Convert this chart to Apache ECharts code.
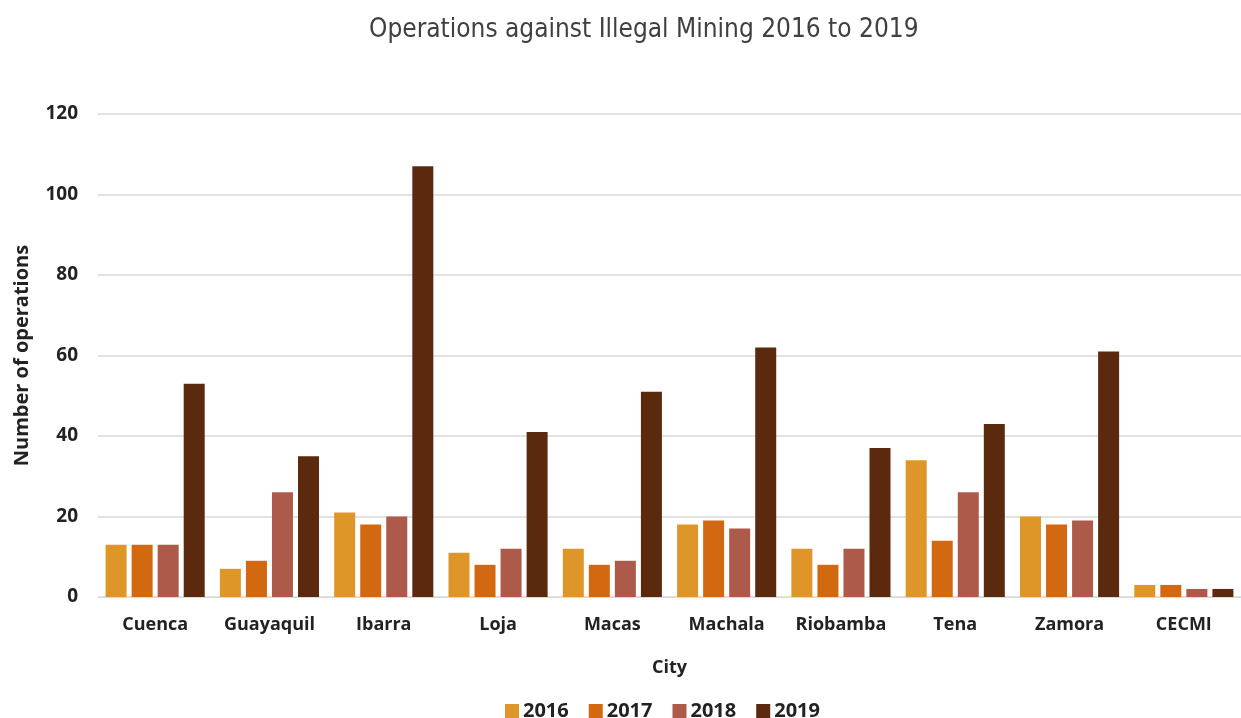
<!DOCTYPE html>
<html>
<head>
<meta charset="utf-8">
<script src="https://cdn.jsdelivr.net/npm/echarts@6/dist/echarts.min.js"></script>
<style>
  html, body { margin: 0; padding: 0; background: #ffffff; }
  #chart { width: 1241px; height: 718px; }
</style>
</head>
<body>
<div id="chart"></div>
<script>
// City categories and yearly operation counts
const cities = ['Cuenca', 'Guayaquil', 'Ibarra', 'Loja', 'Macas', 'Machala', 'Riobamba', 'Tena', 'Zamora', 'CECMI'];
const ops2016 = [13, 7, 21, 11, 12, 18, 12, 34, 20, 3];
const ops2017 = [13, 9, 18, 8, 8, 19, 8, 14, 18, 3];
const ops2018 = [13, 26, 20, 12, 9, 17, 12, 26, 19, 2];
const ops2019 = [53, 35, 107, 41, 51, 62, 37, 43, 61, 2];
const years = ['2016', '2017', '2018', '2019'];
const yearColors = ['#DF9629', '#D2680F', '#AE5A4B', '#5B2A0E'];

const labelFont = 'Open Sans, Lato, sans-serif';
const seriesData = [ops2016, ops2017, ops2018, ops2019];

const chart = echarts.init(document.getElementById('chart'), null, { renderer: 'canvas' });

chart.setOption({
  animation: false,
  backgroundColor: '#ffffff',
  title: {
    text: 'Operations against Illegal Mining 2016 to 2019',
    left: 364,
    top: 12,
    textStyle: {
      fontFamily: 'DejaVu Sans Condensed, DejaVu Sans, sans-serif',
      fontWeight: 'normal',
      fontSize: 26,
      color: '#404040'
    }
  },
  legend: {
    data: years,
    bottom: -8,
    left: 500,
    itemWidth: 14,
    itemHeight: 14,
    itemGap: 20,
    icon: 'rect',
    textStyle: {
      fontFamily: labelFont,
      fontWeight: 'bold',
      fontSize: 20,
      color: '#222222',
      padding: [0, 0, 0, -1]
    }
  },
  grid: {
    left: 98,
    width: 1154,
    top: 114,
    bottom: 121,
    containLabel: false
  },
  xAxis: {
    type: 'category',
    data: cities,
    name: 'City',
    nameLocation: 'middle',
    nameGap: 62,
    nameTextStyle: {
      fontFamily: labelFont,
      fontWeight: 'bold',
      fontSize: 18,
      color: '#222222'
    },
    axisLine: { show: true, lineStyle: { color: '#d9d9d9', width: 1 } },
    axisTick: { show: false },
    axisLabel: {
      interval: 0,
      margin: 19,
      fontFamily: labelFont,
      fontWeight: 'bold',
      fontSize: 18,
      color: '#222222'
    }
  },
  yAxis: {
    type: 'value',
    min: 0,
    max: 120,
    interval: 20,
    name: 'Number of operations',
    nameLocation: 'middle',
    nameGap: 66,
    nameRotate: 90,
    nameTextStyle: {
      fontFamily: labelFont,
      fontWeight: 'bold',
      fontSize: 20,
      color: '#222222'
    },
    axisLine: { show: false },
    axisTick: { show: false },
    axisLabel: {
      margin: 20,
      fontFamily: labelFont,
      fontWeight: 'bold',
      fontSize: 19,
      color: '#222222'
    },
    splitLine: { lineStyle: { color: '#d9d9d9', width: 1.5 } }
  },
  series: years.map((y, i) => ({
    name: y,
    type: 'bar',
    data: seriesData[i],
    barWidth: 21,
    barGap: '24%',
    itemStyle: { color: yearColors[i] }
  }))
});
</script>
</body>
</html>
